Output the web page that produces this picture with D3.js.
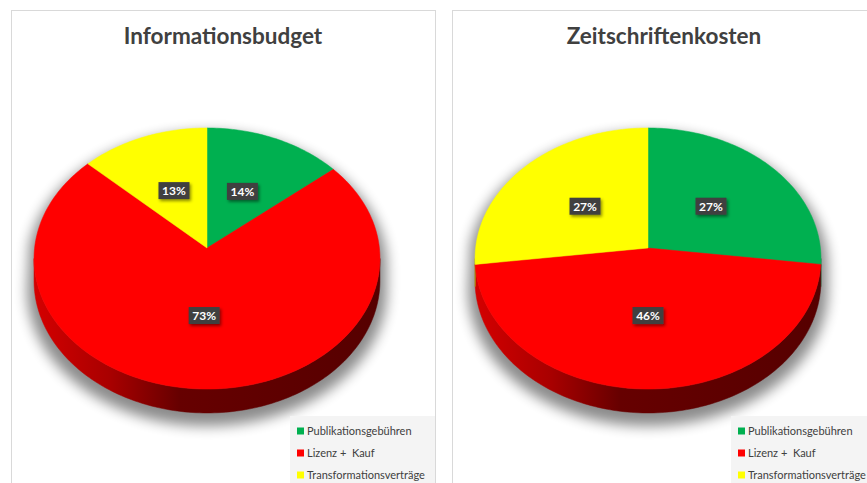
<!DOCTYPE html>
<html>
<head>
<meta charset="utf-8">
<script src="https://cdn.jsdelivr.net/npm/d3@7"></script>
<style>
  body { margin: 0; background: #ffffff; }
  svg { display: block; }
</style>
</head>
<body>
<div id="chart"></div>
<script>
//////////////////////////////////////////////////////////////////////////////
// Data

var titles = ["Informationsbudget", "Zeitschriftenkosten"];
var categories = ["Publikationsgebühren", "Lizenz +  Kauf", "Transformationsverträge"];
var budgetValues = [14, 73, 13];
var journalValues = [27, 46, 27];
var colors = ["#00b050", "#ff0000", "#ffff00"];

//////////////////////////////////////////////////////////////////////////////
// Layout

var width = 867, height = 483;
var panelW = 424, panelTop = 10;
var panelX = [11, 452];
var pieOffX = 196, pieCy = 248;
var rx = 172.4, ry = 129.7;   // disc radii before perspective
var persp = 0.0805;           // perspective strength
var depth = 22;               // thickness of the disc
var labelFrac = 0.5;

var svg = d3.select("#chart").append("svg")
    .attr("width", width)
    .attr("height", height);

var defs = svg.append("defs");

var blur = defs.append("filter").attr("id", "pieShadow")
    .attr("x", "-20%").attr("y", "-20%").attr("width", "140%").attr("height", "140%");
blur.append("feGaussianBlur").attr("stdDeviation", 6);

var boxShadow = defs.append("filter").attr("id", "boxShadow")
    .attr("x", "-30%").attr("y", "-30%").attr("width", "160%").attr("height", "170%");
boxShadow.append("feDropShadow")
    .attr("dx", 1.5).attr("dy", 2).attr("stdDeviation", 1.5)
    .attr("flood-color", "#000").attr("flood-opacity", 0.45);

// project a point on the disc (angle a from top, clockwise; fraction f of radius)
function project(cx, a, f, down) {
    var X = Math.sin(a) * f, Z = -Math.cos(a) * f;
    var k = 1 / (1 - persp * Z);
    return [cx + rx * X * k, pieCy + ry * Z * k + (down ? depth * k : 0)];
}

function arcPoints(cx, a0, a1, down) {
    var n = Math.max(2, Math.ceil(Math.abs(a1 - a0) / 0.02));
    return d3.range(n + 1).map(function(i) {
        return project(cx, a0 + (a1 - a0) * i / n, 1, down);
    });
}

var line = d3.line();
var pie = d3.pie().sort(null).startAngle(0).endAngle(2 * Math.PI);
var sideL = Math.acos(-persp), sideR = 2 * Math.PI - sideL;

function drawPanel(i, values) {
    var x0 = panelX[i];
    var cx = x0 + pieOffX;
    var g = svg.append("g");

    g.append("rect")
        .attr("x", x0 + 0.5).attr("y", panelTop + 0.5)
        .attr("width", panelW).attr("height", height)
        .attr("fill", "#fff").attr("stroke", "#d9d9d9");

    g.append("text")
        .attr("x", x0 + panelW / 2).attr("y", 44)
        .attr("text-anchor", "middle")
        .attr("font-family", "Lato, 'Open Sans', sans-serif")
        .attr("font-weight", "bold")
        .attr("font-size", 22.5)
        .attr("fill", "#404040")
        .text(titles[i]);

    // side gradient
    var gradId = "side" + i;
    var grad = defs.append("linearGradient").attr("id", gradId)
        .attr("gradientUnits", "userSpaceOnUse")
        .attr("x1", cx - rx).attr("x2", cx + rx).attr("y1", 0).attr("y2", 0);
    [[0, "#d40000"], [0.22, "#a80000"], [0.42, "#660000"], [1, "#560000"]].forEach(function(s) {
        grad.append("stop").attr("offset", s[0]).attr("stop-color", s[1]);
    });

    // soft shadow under the disc
    var outline = arcPoints(cx, sideL - Math.PI, sideL, false)
        .concat(arcPoints(cx, sideL, sideR, true));
    g.append("path")
        .attr("d", line(outline) + "Z")
        .attr("transform", "translate(" + cx + "," + (pieCy + 8) + ") scale(1.04,1.03) translate(" + (-cx) + "," + (-pieCy) + ")")
        .attr("fill", "#000")
        .attr("opacity", 0.45)
        .attr("filter", "url(#pieShadow)");

    var arcs = pie(values);

    // visible side wall
    arcs.forEach(function(d) {
        var a0 = Math.max(d.startAngle, sideL), a1 = Math.min(d.endAngle, sideR);
        if (a1 <= a0) return;
        var top = arcPoints(cx, a0, a1, false);
        var bot = arcPoints(cx, a1, a0, true);
        var fill = colors[d.index] === "#ff0000" ? "url(#" + gradId + ")"
            : d3.color(colors[d.index]).darker(1.2).formatHex();
        g.append("path")
            .attr("d", line(top.concat(bot)) + "Z")
            .attr("fill", fill)
            .attr("stroke", fill).attr("stroke-width", 0.5);
    });

    // top face
    g.selectAll("path.slice")
        .data(arcs)
        .enter()
        .append("path")
        .attr("class", "slice")
        .attr("d", function(d) {
            return line([[cx, pieCy]].concat(arcPoints(cx, d.startAngle, d.endAngle, false))) + "Z";
        })
        .attr("fill", function(d) { return colors[d.index]; })
        .attr("stroke", function(d) { return colors[d.index]; })
        .attr("stroke-width", 0.5);

    // data labels
    var total = d3.sum(values);
    var labels = g.selectAll("g.label")
        .data(arcs)
        .enter()
        .append("g")
        .attr("class", "label")
        .attr("transform", function(d) {
            var p = project(cx, (d.startAngle + d.endAngle) / 2, labelFrac, false);
            return "translate(" + p[0] + "," + p[1] + ")";
        });
    labels.append("rect")
        .attr("x", -15.5).attr("y", -8.5)
        .attr("width", 31).attr("height", 17)
        .attr("fill", "#404040")
        .attr("filter", "url(#boxShadow)");
    labels.append("text")
        .attr("text-anchor", "middle")
        .attr("y", 4.5)
        .attr("font-family", "Lato, 'Open Sans', sans-serif")
        .attr("font-weight", "bold")
        .attr("font-size", 12)
        .attr("fill", "#ffffff")
        .text(function(d) { return Math.round(d.value / total * 100) + "%"; });

    // legend
    var lx = x0 + 279;
    g.append("rect")
        .attr("x", lx).attr("y", 416)
        .attr("width", panelW - 279).attr("height", height - 416)
        .attr("fill", "#f4f4f4");
    var items = g.selectAll("g.item")
        .data(categories)
        .enter()
        .append("g")
        .attr("class", "item")
        .attr("transform", function(d, j) { return "translate(" + (lx + 7) + "," + (431 + j * 22) + ")"; });
    items.append("rect")
        .attr("x", 0).attr("y", -3.5)
        .attr("width", 7).attr("height", 7)
        .attr("fill", function(d, j) { return colors[j]; });
    items.append("text")
        .attr("x", 10).attr("y", 4)
        .attr("font-family", "Lato, 'Open Sans', sans-serif")
        .attr("font-size", 11)
        .attr("fill", "#404040")
        .style("white-space", "pre")
        .text(function(d) { return d; });
}

drawPanel(0, budgetValues);
drawPanel(1, journalValues);
</script>
</body>
</html>
